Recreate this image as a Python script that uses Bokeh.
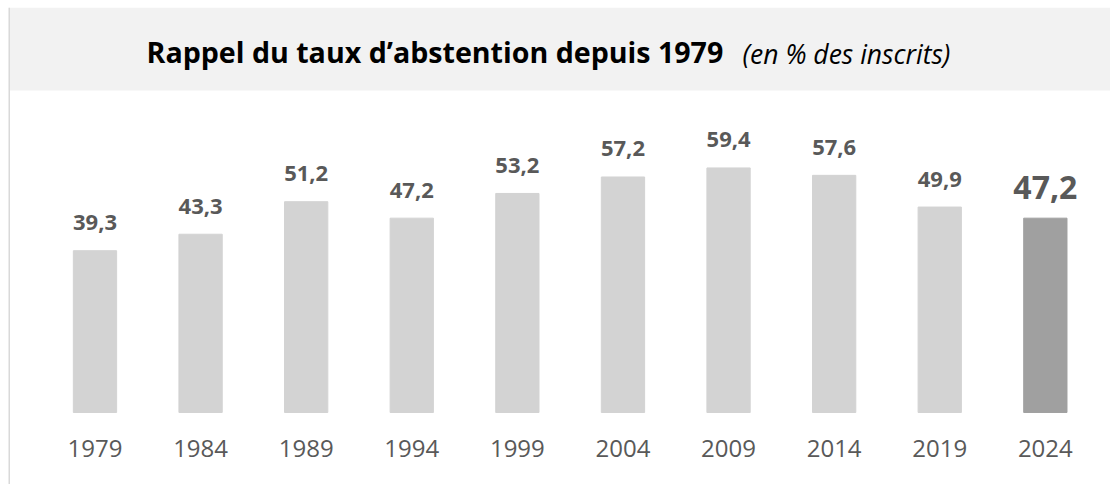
from bokeh.plotting import figure
from bokeh.models import (ColumnDataSource, Range1d, LinearAxis, FixedTicker,
                          BoxAnnotation, Span, Label)
from bokeh.core.properties import value
from bokeh.embed import file_html
from bokeh.resources import INLINE

# ---- data ----
years = ["1979", "1984", "1989", "1994", "1999", "2004", "2009", "2014", "2019", "2024"]
abstention = [39.3, 43.3, 51.2, 47.2, 53.2, 57.2, 59.4, 57.6, 49.9, 47.2]
highlight_year = "2024"
title_main = "Rappel du taux d\u2019abstention depuis 1979"
title_sub = "(en % des inscrits)"

LIGHT = "#d3d3d3"
DARK = "#a0a0a0"
TXT = "#595959"
FONT = "Open Sans"

xs = list(range(len(years)))
colors = [DARK if y == highlight_year else LIGHT for y in years]
labels = [f"{v:.1f}".replace(".", ",") for v in abstention]

src_all = ColumnDataSource(dict(x=xs, top=abstention, color=colors))
norm_idx = [i for i, y in enumerate(years) if y != highlight_year]
hi_idx = [i for i, y in enumerate(years) if y == highlight_year]
src_norm = ColumnDataSource(dict(x=[xs[i] for i in norm_idx],
                                 y=[abstention[i] for i in norm_idx],
                                 t=[labels[i] for i in norm_idx]))
src_hi = ColumnDataSource(dict(x=[xs[i] for i in hi_idx],
                               y=[abstention[i] for i in hi_idx],
                               t=[labels[i] for i in hi_idx]))

W, H = 1110, 484
X0, X1 = -0.819, 9.617
p = figure(width=W, height=H, output_backend="svg", toolbar_location=None,
           x_axis_type=None, y_axis_type=None,
           x_range=Range1d(X0, X1), y_range=Range1d(-17.49, 98.37),
           min_border=0, min_border_left=8, min_border_right=0,
           min_border_top=7, min_border_bottom=0)
p.outline_line_color = None
p.background_fill_color = "white"
p.border_fill_color = "white"
p.xgrid.visible = False
p.ygrid.visible = False

# left thin frame line and title band
p.add_layout(Span(location=X0, dimension="height", line_color="#d9d9d9", line_width=3))
p.add_layout(BoxAnnotation(bottom=78.21, fill_color="#f2f2f2", fill_alpha=1.0,
                           line_color=None, level="underlay"))

p.vbar(x="x", top="top", bottom=0, width=0.41, color="color", source=src_all)

p.text(x="x", y="y", text="t", source=src_norm, text_align="center",
       text_baseline="alphabetic", y_offset=-28, text_font=value(FONT),
       text_font_style="bold", text_font_size="22px", text_color=TXT)
p.text(x="x", y="y", text="t", source=src_hi, text_align="center",
       text_baseline="alphabetic", y_offset=-31, text_font=value(FONT),
       text_font_style="bold", text_font_size="32px", text_color=TXT)

# title (screen units are measured from the frame's bottom-left corner)
p.add_layout(Label(x=138, y=H - 51, x_units="screen", y_units="screen",
                   text=title_main, text_font=FONT, text_font_style="bold",
                   text_font_size="28.6px", text_color="black",
                   text_baseline="alphabetic", text_align="left"))
p.add_layout(Label(x=734, y=H - 53.5, x_units="screen", y_units="screen",
                   text=title_sub, text_font=FONT, text_font_style="italic",
                   text_font_size="26.5px", text_color="black",
                   text_baseline="alphabetic", text_align="left"))

xaxis = LinearAxis(ticker=FixedTicker(ticks=xs),
                   major_label_overrides={i: y for i, y in zip(xs, years)},
                   fixed_location=0)
xaxis.axis_line_color = None
xaxis.major_tick_line_color = None
xaxis.minor_tick_line_color = None
xaxis.major_tick_out = 0
xaxis.major_label_standoff = 28
xaxis.major_label_text_font = FONT
xaxis.major_label_text_font_size = "24px"
xaxis.major_label_text_color = TXT
p.add_layout(xaxis, "below")

open("out.html", "w").write(file_html(p, INLINE))
